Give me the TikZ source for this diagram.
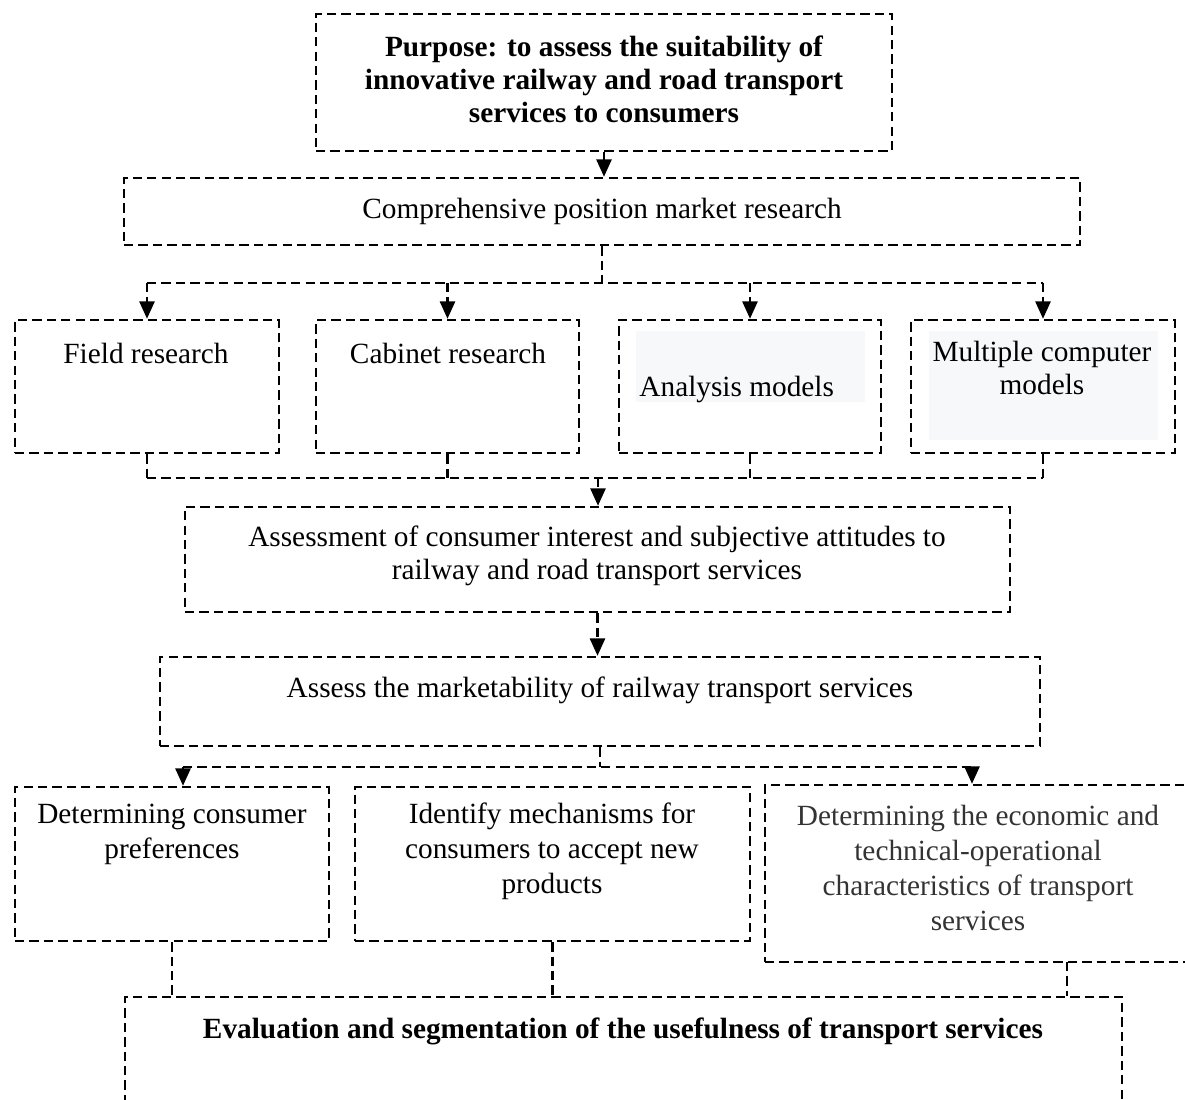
\documentclass[tikz,border=0pt]{standalone}
\usepackage{fontspec}
\setmainfont{Liberation Serif}
\usetikzlibrary{arrows.meta,fit}
\definecolor{panelgrey}{HTML}{F7F8FA}
\begin{document}
\begin{tikzpicture}[x=0.43pt,y=-0.43pt,
  dsh/.style={line width=1.05pt,dash pattern=on 4pt off 2.2pt},
  box/.style={dsh,draw=black,inner sep=0pt,fit={#1}},
  conn/.style={dsh,draw=black},
  arr/.style={dsh,draw=black,-{Triangle[width=6.5pt,length=7.5pt]}},
  txt/.style={font=\fontsize{12.6}{14.2}\selectfont,align=center,inner sep=0pt},
  txtb/.style={txt,font=\fontsize{12.6}{14.2}\selectfont\bfseries},
  txtw/.style={txt,font=\fontsize{12.6}{15}\selectfont}]
\useasboundingbox (0,0) rectangle (1185,1100);
% boxes
\node[box={(316,14)(892,151)}] (b1) {};
\node[box={(124,178)(1080,245)}] (b2) {};
\node[box={(15,320)(279,453)}] (bA) {};
\node[box={(316,320)(579,453)}] (bB) {};
\node[box={(619,320)(881,453)}] (bC) {};
\node[box={(911,320)(1175,453)}] (bD) {};
\node[fill=panelgrey,inner sep=0pt,fit={(636,331)(865,402)}] (gC) {};
\node[fill=panelgrey,inner sep=0pt,fit={(929,331)(1158,440)}] (gD) {};
\node[box={(185,507)(1010,612)}] (b4) {};
\node[box={(160,657)(1040,746)}] (b5) {};
\node[box={(15,787)(329,941)}] (b6) {};
\node[box={(355,787)(750,941)}] (b7) {};
\node[box={(765,785)(1369,962)}] (b8) {};
\node[box={(125,997)(1122,1140)}] (b9) {};
% texts
\node[txtb] (t1) at (604,79) {Purpose: to assess the suitability of\\innovative railway and road transport\\services to consumers};
\node[txt] (t2) at (602,211) {Comprehensive position market research};
\node[txt] (tA) at (146,353) {Field research};
\node[txt] (tB) at (448,353) {Cabinet research};
\node[txt,anchor=west] (tC) at (639,390) {Analysis models};
\node[txt] (tD) at (1042,368) {Multiple computer\\models};
\node[txt] (t4) at (597,556) {Assessment of consumer interest and subjective attitudes to\\railway and road transport services};
\node[txt] (t5) at (600,690) {Assess the marketability of railway transport services};
\node[txtw] (t6) at (172,834) {Determining consumer\\preferences};
\node[txtw] (t7) at (552,851) {Identify mechanisms for\\consumers to accept new\\products};
\node[txtw,text=black!80] (t8) at (978,868) {Determining the economic and\\technical-operational\\characteristics of transport\\services};
\node[txtb] (t9) at (623,1031) {Evaluation and segmentation of the usefulness of transport services};
% connectors
\coordinate (h1) at (602,283);
\coordinate (h2) at (598,478);
\coordinate (h3) at (600,767);
\coordinate (h3l) at (183,767);
\coordinate (h3r) at (972,767);
\coordinate (b8s) at (1067,962);
\draw[arr] (b1.south) -- (b1.south |- b2.north);
\draw[conn] (b2.south) -- (h1);
\draw[conn] (bA.north |- h1) -- (bD.north |- h1);
\draw[arr] (bA.north |- h1) -- (bA.north);
\draw[arr] (bB.north |- h1) -- (bB.north);
\draw[arr] (bC.north |- h1) -- (bC.north);
\draw[arr] (bD.north |- h1) -- (bD.north);
\draw[conn] (bA.south) -- (bA.south |- h2);
\draw[conn] (bB.south) -- (bB.south |- h2);
\draw[conn] (bC.south) -- (bC.south |- h2);
\draw[conn] (bD.south) -- (bD.south |- h2);
\draw[conn] (bA.south |- h2) -- (bD.south |- h2);
\draw[arr] (h2) -- (h2 |- b4.north);
\draw[arr] (b4.south) -- (b4.south |- b5.north);
\draw[conn] (b5.south) -- (h3);
\draw[conn] (h3l) -- (h3r);
\draw[arr] (h3l) -- (h3l |- b6.north);
\draw[arr] (h3r) -- (h3r |- b8.north);
\draw[conn] (b6.south) -- (b6.south |- b9.north);
\draw[conn] (b7.south) -- (b7.south |- b9.north);
\draw[conn] (b8s) -- (b8s |- b9.north);
\end{tikzpicture}
\end{document}
